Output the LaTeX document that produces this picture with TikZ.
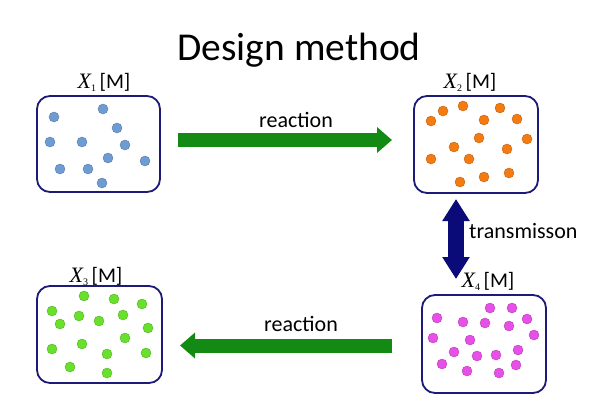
\documentclass[tikz,border=0pt]{standalone}
\usepackage{fontspec}
\setmainfont{Carlito}
\newfontfamily\lserif{Liberation Serif}
\usetikzlibrary{arrows.meta}
\definecolor{boxline}{HTML}{1C1C78}
\definecolor{arrgreen}{HTML}{138A13}
\definecolor{arrnavy}{HTML}{0A0A78}
\definecolor{dotblue}{HTML}{6E9CD2}
\definecolor{dotorange}{HTML}{F47A12}
\definecolor{dotgreen}{HTML}{68E02C}
\definecolor{dotmag}{HTML}{E650E6}
\newcommand{\xlab}[1]{{\lserif\itshape\fontsize{22}{22}\selectfont X}\raisebox{-0.15em}{\fontsize{10}{10}\selectfont\lserif #1}\,[M]}
\begin{document}
\begin{tikzpicture}[x=1pt,y=-1pt,
  tank/.style={draw=boxline,line width=1.8pt,rounded corners=13pt,minimum width=#1,inner sep=0pt},
  lab/.style={font=\fontsize{21}{21}\selectfont,inner sep=0pt},
  word/.style={font=\fontsize{22}{22}\selectfont,inner sep=0pt},
  dot/.style={fill=#1,draw=#1!80!black,line width=0.4pt},
  greenarrow/.style={draw=arrgreen,line width=14pt,-{Triangle[width=25pt,length=15pt]}},
  navyarrow/.style={draw=arrnavy,line width=16pt,{Triangle[width=26pt,length=22pt]}-{Triangle[width=26pt,length=22pt]}}]
\useasboundingbox[fill=white] (0,0) rectangle (600,400);
\node[font=\fontsize{39.5}{40}\selectfont,inner sep=0pt] (title) at (299,50) {Design method};
% tanks
\node[tank=123pt,minimum height=96pt] (b1) at (98.5,144) {};
\node[tank=124pt,minimum height=97pt] (b2) at (476,144.5) {};
\node[tank=125pt,minimum height=97pt] (b3) at (99.5,334.5) {};
\node[tank=124pt,minimum height=98pt] (b4) at (484,344) {};
% labels
\node[lab,anchor=base] (l1) at (104,88) {\xlab{1}};
\node[lab,anchor=base] (l2) at (470,88) {\xlab{2}};
\node[lab,anchor=base] (l3) at (96,282) {\xlab{3}};
\node[lab,anchor=base] (l4) at (488,287) {\xlab{4}};
% dots
\foreach \p in {(54,117),(103,109),(117,128),(50,142),(82,142),(125,145),(108,158),(145,161),(60,169),(88,169),(102,183)}
  \path[dot=dotblue] \p circle (5pt);
\foreach \p in {(443,111),(463,106),(500,108),(431,121),(484,120),(517,119),(479,138),(527,139),(454,147),(507,149),(431,159),(469,159),(460,182),(484,177),(509,173)}
  \path[dot=dotorange] \p circle (5pt);
\foreach \p in {(84,296),(114,299),(142,304),(52,311),(79,316),(123,315),(60,324),(99,321),(148,328),(125,338),(82,344),(52,349),(107,354),(146,353),(70,367),(107,373)}
  \path[dot=dotgreen] \p circle (5pt);
\foreach \p in {(490,308),(512,308),(437,318),(463,322),(485,323),(509,326),(527,319),(433,338),(470,340),(534,335),(454,352),(477,356),(496,355),(518,350),(442,364),(467,371),(499,373),(516,365)}
  \path[dot=dotmag] \p circle (5pt);
% arrows
\coordinate (a1s) at (178,140);
\coordinate (a1e) at (392,140);
\coordinate (a2s) at (392,345.5);
\coordinate (a2e) at (180,345.5);
\coordinate (a3s) at (456,199);
\coordinate (a3e) at (456,279);
\draw[greenarrow] (a1s) -- (a1e);
\draw[greenarrow] (a2s) -- (a2e);
\draw[navyarrow] (a3s) -- (a3e);
\node[word] (r1) at (296,120) {reaction};
\node[word] (r2) at (301,324) {reaction};
\node[word,anchor=west] (t1) at (469,231) {transmisson};
\end{tikzpicture}
\end{document}
